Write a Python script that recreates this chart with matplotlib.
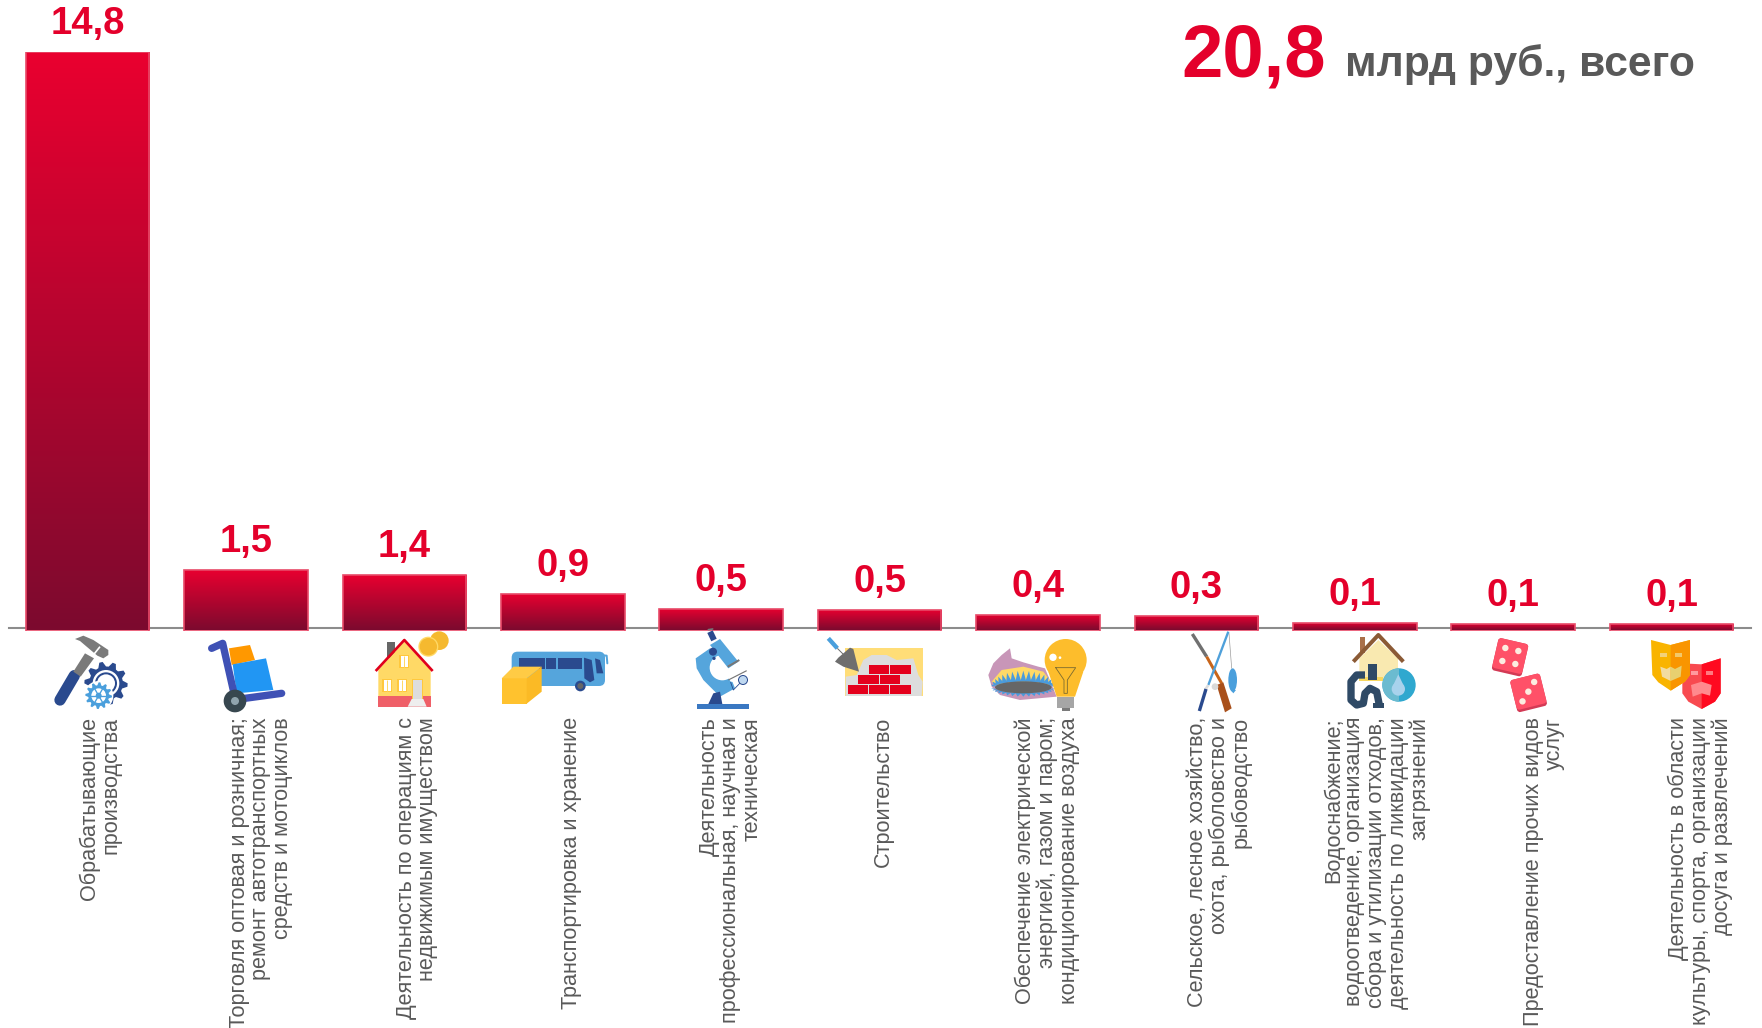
import numpy as np
import matplotlib
matplotlib.use("Agg")
import matplotlib.pyplot as plt
from matplotlib.patches import Polygon, Circle, Rectangle, Ellipse, FancyBboxPatch
from matplotlib.transforms import Affine2D

plt.rcParams['font.family'] = ['Liberation Sans', 'DejaVu Sans']

categories = ["Обрабатывающие\nпроизводства",
              "Торговля оптовая и розничная;\nремонт автотранспортных\nсредств и мотоциклов",
              "Деятельность по операциям с\nнедвижимым имуществом",
              "Транспортировка и хранение",
              "Деятельность\nпрофессиональная, научная и\nтехническая",
              "Строительство",
              "Обеспечение электрической\nэнергией, газом и паром;\nкондиционирование воздуха",
              "Сельское, лесное хозяйство,\nохота, рыболовство и\nрыбоводство",
              "Водоснабжение;\nводоотведение, организация\nсбора и утилизации отходов,\nдеятельность по ликвидации\nзагрязнений",
              "Предоставление прочих видов\nуслуг",
              "Деятельность в области\nкультуры, спорта, организации\nдосуга и развлечений"]
heights = [14.8, 1.48, 1.35, 0.88, 0.49, 0.46, 0.34, 0.30, 0.13, 0.11, 0.10]
value_labels = ["14,8", "1,5", "1,4", "0,9", "0,5", "0,5", "0,4", "0,3", "0,1", "0,1", "0,1"]
label_x = [89, 232, 371, 509, 650, 786, 932, 1085, 1225, 1374, 1513]

RED = "#E4002B"
GREY = "#595959"

W, H = 1762, 1028
fig = plt.figure(figsize=(W / 100, H / 100), dpi=100)

# main axes: y=0 is the baseline at pixel 628, 14.8 is at pixel 52
px_per_unit = (628 - 52) / 14.8
pad = 2.5 / px_per_unit
ax = fig.add_axes([0, (H - 628 - 2.5) / H, 1, (576 + 2.5) / H])
pitch = 158.4
first = 87.6
ax.axis("off")

cmap = matplotlib.colors.LinearSegmentedColormap.from_list("bar", ["#7C0A2E", "#EA0030"])
grad = np.linspace(0, 1, 256).reshape(-1, 1)
bars = ax.bar(range(len(heights)), np.array(heights) + pad, bottom=-pad, width=123.6 / pitch,
              facecolor="none", edgecolor="#E84A68", linewidth=1.2, zorder=3)
for b in bars:
    x0, y0, w, h = b.get_x(), b.get_y(), b.get_width(), b.get_height()
    im = ax.imshow(grad, extent=[x0, x0 + w, y0, y0 + h], origin="lower", cmap=cmap,
                   aspect="auto", zorder=2)
    im.set_clip_path(b)
ax.set_xlim(-first / pitch, (W - first) / pitch)
ax.set_ylim(-pad, 14.8)
ax.plot([(9 - first) / pitch, (1751 - first) / pitch], [0, 0], color="#8C8C8C", lw=1.5, zorder=1)

for i, v in enumerate(value_labels):
    ax.annotate(v, (i, heights[i]), xytext=(0, 13), textcoords="offset points", ha="center",
                va="baseline", color=RED, fontsize=27.5, fontweight="bold", annotation_clip=False)

# overlay axes in full size pixels, for labels and icons
ov = fig.add_axes([0, 0, 1, 1])
ov.set_xlim(0, W)
ov.set_ylim(H, 0)
ov.axis("off")
ov.patch.set_alpha(0)

for x, c in zip(label_x, categories):
    ov.text(x * W / 1568, 717, c, rotation=90, ha="center", va="top", multialignment="right",
            color=GREY, fontsize=15.6, linespacing=1.03)

ov.text(1181, 76, "20,8", color=RED, fontsize=53.5, fontweight="bold", va="baseline")
ov.text(1345, 76, "млрд руб., всего", color=GREY, fontsize=30.7, fontweight="bold", va="baseline")

# icon helpers, icon points are given as 3x crop coordinates from an origin
org = (0, 0)


def p(pts):
    return np.array(pts, dtype=float) / 3 + org


def poly(pts, color, z=5):
    ov.add_patch(Polygon(p(pts), closed=True, facecolor=color, edgecolor="none", zorder=z))


def rect(x0, y0, x1, y1, color, z=5):
    poly([(x0, y0), (x1, y0), (x1, y1), (x0, y1)], color, z)


def circ(x, y, r, color, z=5):
    ov.add_patch(Circle(p([(x, y)])[0], r / 3, facecolor=color, edgecolor="none", zorder=z))


def ell(x, y, w, h, color, z=5):
    ov.add_patch(Ellipse(p([(x, y)])[0], w / 3, h / 3, facecolor=color, edgecolor="none", zorder=z))


def line(pts, color, lw, z=5, cap="round"):
    q = p(pts)
    ov.plot(q[:, 0], q[:, 1], color=color, lw=lw * 0.24, solid_capstyle=cap, solid_joinstyle="round", zorder=z)


def gear(x, y, r, color, z=5, teeth=10):
    a = np.linspace(0, 2 * np.pi, teeth * 4, endpoint=False)
    rr = np.where(np.arange(teeth * 4) % 4 < 2, r, r * 0.78)
    poly(np.c_[x + rr * np.cos(a), y + rr * np.sin(a)], color, z)


# hammer and gears
org = (40, 625)
line([(60, 225), (103, 152)], "#2A4A8E", 34)
poly([(100, 140), (135, 85), (162, 100), (122, 155)], "#7A7A7A")
poly([(105, 42), (130, 32), (160, 45), (205, 75), (205, 90), (190, 100), (172, 92), (140, 65), (120, 48)], "#7A7A7A")
line([(160, 90), (180, 65)], "white", 5, z=6, cap="butt")
gear(198, 175, 65, "#2A4A8E")
circ(198, 175, 40, "white", 6)
circ(198, 175, 33, "#2A4A8E", 7)
circ(198, 175, 27, "white", 8)
circ(176, 212, 44, "white", 9)
gear(176, 212, 40, "#4A9FDC", z=10, teeth=12)
circ(176, 212, 22, "white", 11)
circ(176, 212, 9, "#4A9FDC", 12)
for a in np.arange(0, np.pi, np.pi / 3):
    line([(176 - 24 * np.cos(a), 212 - 24 * np.sin(a)), (176 + 24 * np.cos(a), 212 + 24 * np.sin(a))], "#4A9FDC", 4, z=12)

# cart
poly([(567, 70), (630, 60), (645, 105), (575, 120)], "#FF9800")
poly([(578, 118), (678, 100), (700, 195), (590, 205)], "#2196F3", 6)
line([(515, 70), (548, 55), (582, 205)], "#3F51B5", 22, z=7)
line([(600, 222), (725, 205)], "#3F51B5", 22, z=7)
circ(585, 228, 34, "#37474F", 8)
circ(585, 228, 12, "#90A4AE", 9)

# house with coins
org = (360, 625)
rect(82, 50, 105, 100, "#666666")
poly([(55, 135), (133, 50), (212, 135), (212, 245), (55, 245)], "#FFD966", 6)
line([(47, 138), (133, 45), (218, 138)], "#E0001B", 8, z=7, cap="butt")
rect(55, 213, 212, 245, "#EF5F68", 7)
for wx, wy in [(118, 90), (67, 162), (112, 162)]:
    rect(wx, wy, wx + 30, wy + 40, "#FFC83D", 7)
    rect(wx + 4, wy + 4, wx + 26, wy + 36, "white", 8)
    line([(wx + 15, wy + 4), (wx + 15, wy + 36)], "#FFD966", 3, z=9, cap="butt")
rect(156, 161, 189, 224, "#FFC83D", 7)
rect(160, 165, 185, 222, "#DDDDDD", 8)
poly([(143, 245), (155, 222), (190, 222), (200, 245)], "#EEEEEE", 9)
circ(238, 47, 28, "#F5B92F")
circ(205, 65, 30, "#FFD966", 6)
circ(205, 65, 26, "#F5B92F", 7)

# bus and box
org = (490, 625)
q = p([(65, 80)])[0]
ov.add_patch(FancyBboxPatch(q, 280 / 3, 103 / 3, boxstyle="round,pad=0,rounding_size=6",
                            facecolor="#55A5DC", edgecolor="none", zorder=5))
line([(325, 90), (350, 92), (352, 115)], "#55A5DC", 6)
rect(87, 98, 165, 132, "#2A4A8E", 6)
rect(168, 98, 198, 132, "#2A4A8E", 6)
rect(203, 98, 277, 132, "#2A4A8E", 6)
poly([(282, 98), (305, 105), (313, 165), (300, 172), (283, 160)], "#2A4A8E", 6)
poly([(315, 100), (330, 105), (340, 145), (320, 145)], "#2A4A8E", 6)
circ(271, 183, 16, "#2A4A8E", 7)
circ(271, 183, 9, "#666666", 8)
rect(35, 160, 110, 236, "#FFC22E", 8)
poly([(110, 160), (155, 125), (155, 200), (110, 236)], "#FBBA25", 8)
poly([(35, 160), (70, 125), (155, 125), (110, 160)], "#FFCB45", 8)

# microscope
poly([(617, 100), (660, 70), (700, 100), (735, 190), (690, 215), (640, 165), (620, 130)], "#55A5DC")
circ(697, 128, 38, "white", 6)
poly([(697, 128), (770, 90), (770, 175), (722, 170)], "white", 6)
poly([(660, 60), (690, 42), (745, 110), (715, 130)], "#55A5DC", 7)
line([(660, 20), (672, 45)], "#2A4A8E", 18, z=7, cap="butt")
line([(655, 14), (668, 12)], "#777777", 5, z=7)
line([(713, 125), (748, 105)], "#777777", 6, z=8, cap="butt")
line([(715, 165), (770, 137)], "#777777", 3.5, z=8, cap="butt")
line([(722, 172), (730, 195), (759, 165)], "#2A4A8E", 2.5, z=8)
circ(759, 165, 15, "#2A4A8E", 8)
circ(759, 165, 12, "#BFD8F0", 9)
circ(669, 80, 12, "#2A4A8E", 8)
circ(672, 100, 5, "#2A4A8E", 8)
poly([(655, 237), (670, 205), (690, 200), (697, 237)], "#2A4A8E", 8)
rect(622, 237, 777, 253, "#3A78C2", 8)

# bricks
org = (810, 625)
rect(105, 70, 338, 213, "#FFDD77")
poly([(107, 213), (107, 155), (140, 150), (160, 105), (185, 90), (230, 90), (260, 105), (310, 100),
      (325, 150), (338, 170), (335, 213)], "#DDDDDD", 6)
for x0, y0 in [(176, 120), (241, 120), (145, 150), (209, 150), (113, 180), (177, 180), (241, 180)]:
    rect(x0, y0, x0 + 61, y0 + 28, "#E4001C", 7)
line([(55, 40), (82, 70)], "#4A9FDC", 13, z=8, cap="butt")
line([(82, 70), (100, 88)], "#6E6E6E", 3, z=8, cap="butt")
poly([(75, 110), (85, 98), (120, 68), (130, 72), (147, 140), (100, 125)], "#6E6E6E", 8)

# gas and bulb
org = (960, 625)
poly([(85, 150), (100, 115), (125, 90), (150, 70), (155, 100), (190, 112), (235, 125), (255, 130),
      (290, 215), (180, 225), (120, 210), (95, 185)], "#C896B8")
poly([(95, 170), (125, 135), (190, 125), (250, 140), (280, 180), (120, 190)], "#FFD966", 6)
for t in np.linspace(0, 2 * np.pi, 36, endpoint=False):
    bx, by = 190 + 85 * np.cos(t), 187 + 17 * np.sin(t)
    tx, ty = 190 + 98 * np.cos(t), 187 + (28 if np.sin(t) > 0 else 50) * np.sin(t)
    nx = 9
    poly([(bx - nx, by), (tx, ty), (bx + nx, by)], "#4A9BDC", 7)
ell(190, 187, 170, 36, "#666666", 8)
circ(317, 105, 63, "#FDBD2C", 9)
poly([(265, 140), (370, 140), (345, 215), (290, 215)], "#FDBD2C", 9)
line([(287, 128), (347, 128), (322, 165), (322, 205), (312, 205), (312, 165), (287, 128)], "#7A6A30", 2.5, z=10)
rect(292, 215, 343, 248, "#A6A6A6", 10)
rect(305, 248, 330, 257, "#7A7A7A", 10)
circ(279, 97, 11, "white", 10)
circ(300, 98, 4, "white", 10)

# rifle and rod
line([(697, 27), (740, 95)], "#707070", 10, cap="butt")
line([(740, 95), (785, 175)], "#C8651A", 9, cap="butt")
poly([(770, 180), (790, 172), (815, 250), (795, 262)], "#A9501B")
line([(805, 20), (745, 180)], "#4FA0DA", 7, z=6, cap="butt")
line([(745, 180), (735, 195)], "#DDDDDD", 8, z=6, cap="butt")
line([(738, 192), (718, 258)], "#2A4A8E", 10, z=6, cap="butt")
line([(807, 25), (815, 130)], "#999999", 2)
circ(765, 185, 10, "#D9D9D9", 7)
ell(818, 165, 26, 70, "#4A9FDC", 6)
poly([(812, 195), (828, 195), (820, 205)], "#4A9FDC", 6)

# water and house
org = (1320, 625)
rect(120, 35, 136, 85, "#A9704A")
poly([(118, 100), (175, 45), (234, 100), (234, 165), (118, 165)], "#F9E9B0", 6)
rect(118, 155, 190, 167, "#F8D860", 6)
line([(100, 110), (175, 30), (250, 110)], "#8B5A35", 12, z=7, cap="butt")
rect(143, 118, 170, 165, "#2F4A66", 8)
line([(135, 150), (110, 150), (93, 170), (93, 225), (110, 240), (130, 235), (135, 205), (150, 190),
      (170, 200), (178, 240)], "#2F4A66", 22, z=8, cap="butt")
rect(160, 235, 192, 248, "#2F4A66", 8)
circ(237, 180, 50, "#2FA8CF", 9)
a = np.linspace(np.pi / 2, 3 * np.pi / 2, 30)
poly(np.c_[237 + 50 * np.cos(a), 180 + 50 * np.sin(a)], "#6BBBD0", 10)
circ(235, 192, 20, "#A8D2EC", 11)
poly([(235, 148), (217, 186), (253, 186)], "#A8D2EC", 11)


def die(x, y, s, angle, dots):
    c = p([(x, y)])[0]
    t = Affine2D().rotate_deg(angle).translate(c[0], c[1]) + ov.transData
    s = s / 3
    ov.add_patch(FancyBboxPatch((-s / 2, -s / 2), s, s + 2.5, boxstyle="round,pad=0,rounding_size=3",
                                facecolor="#D33A55", edgecolor="none", zorder=5, transform=t))
    ov.add_patch(FancyBboxPatch((-s / 2, -s / 2), s, s, boxstyle="round,pad=0,rounding_size=3",
                                facecolor="#FF5168", edgecolor="none", zorder=6, transform=t))
    for dx, dy in dots:
        ov.add_patch(Circle((dx / 3, dy / 3), 3.2, facecolor="#FCEDE0", edgecolor="none", zorder=7, transform=t))


die(571, 93, 92, 13, [(-20, -20), (20, -20), (-20, 20), (20, 20)])
die(625, 200, 92, -14, [(-24, 24), (0, 0), (24, -24)])

# masks
poly([(1087, 115), (1145, 118), (1202, 100), (1202, 205), (1185, 230), (1145, 252), (1105, 230), (1087, 205)], "#F84A50")
poly([(1145, 118), (1202, 100), (1202, 205), (1185, 230), (1145, 252)], "#FF0A20", 6)
rect(1113, 138, 1133, 150, "#FF9A9E", 6)
rect(1158, 138, 1178, 150, "#FF7A80", 7)
poly([(1113, 180), (1145, 170), (1175, 180), (1170, 212), (1145, 205), (1118, 215)], "#FF8A8E", 7)
poly([(993, 45), (1052, 60), (1110, 45), (1110, 150), (1095, 170), (1052, 197), (1015, 172), (997, 150)], "#F9B400", 8)
poly([(1052, 60), (1110, 45), (1110, 150), (1095, 170), (1052, 197)], "#F99500", 8)
rect(1020, 84, 1040, 96, "#F2D27A", 9)
rect(1065, 84, 1085, 96, "#F2C86A", 9)
poly([(1021, 125), (1040, 132), (1052, 125), (1052, 168), (1026, 155)], "#F2DCA0", 9)
poly([(1052, 125), (1065, 132), (1085, 122), (1082, 155), (1052, 168)], "#E8D070", 9)

fig.savefig("out.png", dpi=100, facecolor="white")
